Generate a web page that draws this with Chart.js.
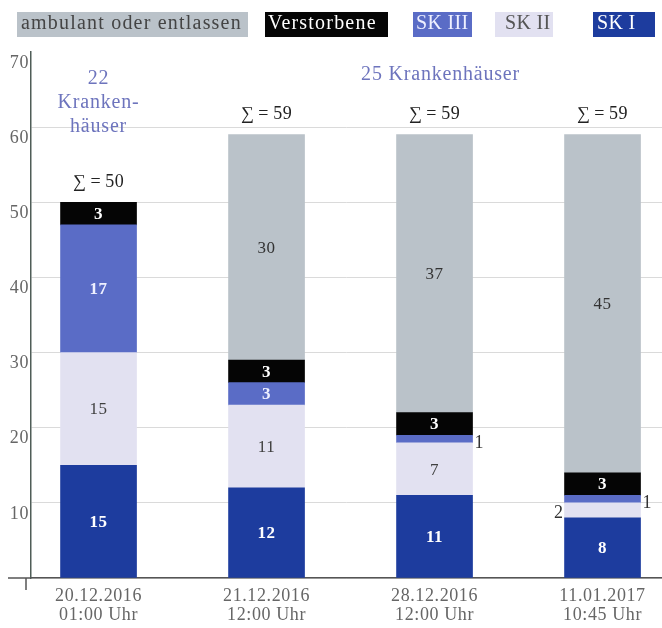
<!DOCTYPE html>
<html><head><meta charset="utf-8">
<script src="https://cdn.jsdelivr.net/npm/chart.js@4/dist/chart.umd.min.js"></script>
<style>html,body{margin:0;padding:0;background:#fff;}#wrap{position:relative;width:662px;height:628px;}</style>
</head><body><div id="wrap"><canvas id="c" width="662" height="628"></canvas></div>
<script>
// ---- data ----
const categories = [['20.12.2016','01:00 Uhr'],['21.12.2016','12:00 Uhr'],['28.12.2016','12:00 Uhr'],['11.01.2017','10:45 Uhr']];
const skI = [15, 12, 11, 8];
const skII = [15, 11, 7, 2];
const skIII = [17, 3, 1, 1];
const verstorbene = [3, 3, 3, 3];
const ambulant = [0, 30, 37, 45];
const seriesNames = ['SK I', 'SK II', 'SK III', 'Verstorbene', 'ambulant oder entlassen'];
const legendOrder = ['ambulant oder entlassen', 'Verstorbene', 'SK III', 'SK II', 'SK I'];
const yTicks = [0, 10, 20, 30, 40, 50, 60, 70];
const hospitalNotes = [['22', 'Kranken-', 'häuser'], ['25 Krankenhäuser']];

// ---- styles ----
const FONT = '"Liberation Serif", "Times New Roman", serif';
const colors = ['#1d3c9e', '#e2e1f1', '#5a6cc6', '#050505', '#bac2c9'];
const valueColors = ['#ffffff', '#3f3f3f', '#eef0ff', '#ffffff', '#333333'];
const valueWeight = ['bold ', '', 'bold ', 'bold ', ''];
const legendText = { 'ambulant oder entlassen': '#444444', 'Verstorbene': '#ffffff', 'SK III': '#eef0ff', 'SK II': '#555555', 'SK I': '#ffffff' };
const legendBoxes = { 'ambulant oder entlassen': [17, 231], 'Verstorbene': [265, 123], 'SK III': [413, 59], 'SK II': [495, 58], 'SK I': [593, 62] };
const legendPad = { 'ambulant oder entlassen': 4, 'Verstorbene': 3, 'SK III': 3, 'SK II': 10, 'SK I': 4 };
const legendSpacing = { 'ambulant oder entlassen': '1.2px', 'Verstorbene': '1.2px', 'SK III': '0.3px', 'SK II': '0.3px', 'SK I': '0.3px' };
const noteColor = '#6d74bd';

const series = [skI, skII, skIII, verstorbene, ambulant];
const datasets = series.map((arr, di) => ({
  label: seriesNames[di],
  data: arr.map((v, i) => ({ x: i, y: v === 0 ? null : v })),
  backgroundColor: colors[di],
  borderWidth: 0,
  barThickness: 76
}));

const spacingPlugin = {
  id: 'spacing',
  beforeDraw(chart) { chart.ctx.letterSpacing = '0.6px'; }
};

const labelPlugin = {
  id: 'labels',
  afterDatasetsDraw(chart) {
    const ctx = chart.ctx;
    ctx.save();
    ctx.letterSpacing = '0.5px';
    ctx.textBaseline = 'middle';
    chart.data.datasets.forEach((ds, di) => {
      const meta = chart.getDatasetMeta(di);
      meta.data.forEach((el, i) => {
        const v = series[di][i];
        if (!v) return;
        const cy = (el.y + el.base) / 2;
        if (v >= 3) {
          ctx.font = valueWeight[di] + '17px ' + FONT;
          ctx.textAlign = 'center';
          ctx.fillStyle = valueColors[di];
          ctx.fillText(String(v), el.x, cy + 1);
        } else if (di === 2) {
          ctx.font = '18px ' + FONT;
          ctx.textAlign = 'left';
          ctx.fillStyle = '#333';
          ctx.fillText(String(v), el.x + el.width / 2 + 2, cy + 4);
        } else {
          ctx.font = '18px ' + FONT;
          ctx.textAlign = 'right';
          ctx.fillStyle = '#333';
          ctx.fillText(String(v), el.x - el.width / 2 - 1, cy + 3);
        }
      });
    });
    // sums
    const xs = chart.scales.x, ys = chart.scales.y;
    ctx.font = '18px ' + FONT;
    ctx.fillStyle = '#222';
    ctx.textAlign = 'center';
    categories.forEach((c, i) => {
      const total = series.reduce((s, arr) => s + arr[i], 0);
      ctx.fillText('\u2211\u2009=\u2009' + total, xs.getPixelForValue(i), ys.getPixelForValue(total) - 20);
    });
    // hospital notes
    const top = chart.chartArea.top;
    ctx.font = '20px ' + FONT;
    ctx.fillStyle = noteColor;
    ctx.letterSpacing = '0.8px';
    hospitalNotes[0].forEach((t, k) => ctx.fillText(t, xs.getPixelForValue(0), top + 27 + k * 24));
    ctx.fillText(hospitalNotes[1][0], xs.getPixelForValue(2) + 6, top + 23);
    ctx.restore();
  },
  afterDraw(chart) {
    const ctx = chart.ctx;
    const a = chart.chartArea;
    ctx.save();
    // axis extensions
    ctx.strokeStyle = '#555';
    ctx.lineWidth = 1.5;
    ctx.beginPath();
    ctx.moveTo(8, a.bottom); ctx.lineTo(a.left, a.bottom);
    ctx.moveTo(a.left - 5, a.bottom); ctx.lineTo(a.left - 5, a.bottom + 12);
    ctx.stroke();
    // legend
    ctx.font = '20px ' + FONT;
    ctx.textBaseline = 'middle';
    ctx.textAlign = 'left';
    legendOrder.forEach(name => {
      const di = seriesNames.indexOf(name);
      const [bx, bw] = legendBoxes[name];
      ctx.fillStyle = colors[di];
      ctx.fillRect(bx, 12, bw, 25);
      ctx.letterSpacing = legendSpacing[name];
      ctx.fillStyle = legendText[name];
      ctx.fillText(name, bx + legendPad[name], 24);
    });
    ctx.restore();
  }
};

new Chart(document.getElementById('c'), {
  type: 'bar',
  data: { datasets },
  plugins: [spacingPlugin, labelPlugin],
  options: {
    responsive: false,
    devicePixelRatio: 1,
    animation: false,
    layout: { padding: { top: 52, left: 0, right: 0, bottom: 0 } },
    plugins: { legend: { display: false }, tooltip: { enabled: false } },
    scales: {
      x: {
        type: 'linear',
        stacked: true,
        offset: false,
        min: -0.402,
        max: 3.354,
        afterBuildTicks(scale) { scale.ticks = categories.map((c, i) => ({ value: i })); },
        afterFit(scale) { scale.height = 50; },
        grid: { display: false, drawTicks: false, offset: false },
        border: { display: true, color: '#555', width: 1.5 },
        ticks: {
          autoSkip: false,
          maxRotation: 0,
          padding: 8,
          color: '#666',
          font: { family: FONT, size: 18, lineHeight: 1.1 },
          callback: (v) => categories[v] || ''
        }
      },
      y: {
        stacked: true,
        min: 0,
        max: 70,
        afterBuildTicks(scale) { scale.ticks = yTicks.map(v => ({ value: v })); },
        afterFit(scale) { scale.width = 31; },
        grid: {
          color: (c) => (c.tick && c.tick.value === 70) ? 'rgba(0,0,0,0)' : '#dadada',
          lineWidth: 1,
          drawTicks: false
        },
        border: { display: true, color: '#4f5d57', width: 1.5 },
        ticks: {
          padding: 2,
          labelOffset: 11,
          color: '#666',
          font: { family: FONT, size: 18 },
          callback: (v) => v === 0 ? '' : String(v)
        }
      }
    }
  }
});
</script>
</body></html>
